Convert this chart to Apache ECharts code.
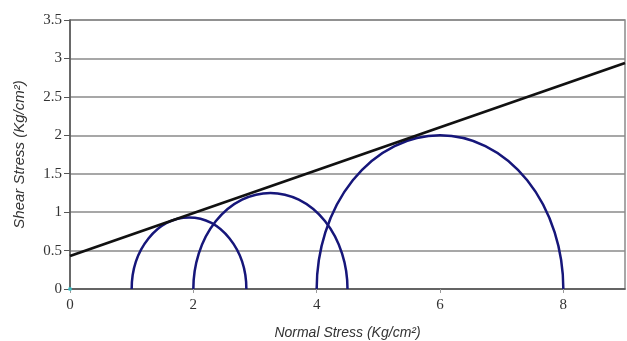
<!DOCTYPE html>
<html>
<head>
<meta charset="utf-8">
<script src="https://cdn.jsdelivr.net/npm/echarts@6/dist/echarts.min.js"></script>
<style>
  html, body { margin: 0; padding: 0; background: #fff; }
  #chart { width: 627px; height: 341px; }
</style>
</head>
<body>
<div id="chart"></div>
<script>
// Mohr circles: centre and radius on the normal stress axis
const circleCenters = [1.93, 3.25, 6];
const circleRadii = [0.93, 1.25, 2];
// failure envelope end points
const envelopeX = [0, 9];
const envelopeY = [0.43, 2.94];
// origin marker
const originPoint = [[0, 0]];

const chart = echarts.init(document.getElementById("chart"));

const circleData = circleCenters.map((c, i) => [c, circleRadii[i]]);
const envelopeData = envelopeX.map((x, i) => [x, envelopeY[i]]);

const option = {
  animation: false,
  grid: {
    left: 70,
    right: 2,
    top: 20,
    bottom: 52,
    outerBoundsMode: "none",
    show: true,
    borderColor: "#8a8a8a",
    borderWidth: 1.5,
  },
  xAxis: {
    type: "value",
    min: 0,
    max: 9,
    interval: 2,
    name: "Normal Stress (Kg/cm²)",
    nameLocation: "middle",
    nameGap: 37,
    nameTextStyle: {
      fontFamily: "Liberation Sans",
      fontStyle: "italic",
      fontSize: 14,
      color: "#333",
    },
    axisLine: { lineStyle: { color: "#555", width: 1.5 } },
    axisTick: { show: true, length: 4, lineStyle: { color: "#999" } },
    axisLabel: {
      showMaxLabel: false,
      fontFamily: "Liberation Serif",
      fontSize: 15,
      color: "#333",
      margin: 9,
    },
    splitLine: { show: false },
  },
  yAxis: {
    type: "value",
    min: 0,
    max: 3.5,
    interval: 0.5,
    name: "Shear Stress (Kg/cm²)",
    nameLocation: "middle",
    nameGap: 43,
    nameTextStyle: {
      fontFamily: "Liberation Sans",
      fontStyle: "italic",
      fontSize: 15,
      color: "#333",
    },
    axisLine: { show: true, lineStyle: { color: "#555", width: 1.5 } },
    axisTick: { show: true, length: 6, lineStyle: { color: "#555" } },
    axisLabel: {
      fontFamily: "Liberation Serif",
      fontSize: 15,
      color: "#333",
      margin: 8,
    },
    splitLine: { show: true, lineStyle: { color: "#8a8a8a", width: 1.5 } },
  },
  series: [
    {
      type: "custom",
      data: circleData,
      renderItem: function (params, api) {
        const c = api.coord([api.value(0), 0]);
        const s = api.size([api.value(1), api.value(1)]);
        return {
          type: "path",
          shape: {
            pathData:
              "M " + (c[0] - s[0]) + " " + c[1] +
              " A " + s[0] + " " + s[1] + " 0 0 1 " + (c[0] + s[0]) + " " + c[1],
          },
          style: { fill: "none", stroke: "#16167a", lineWidth: 2.5 },
        };
      },
    },
    {
      type: "line",
      data: envelopeData,
      symbol: "none",
      lineStyle: { color: "#111", width: 2.8 },
    },
    {
      type: "scatter",
      data: originPoint,
      symbolSize: 4,
      itemStyle: { color: "#33c6cc" },
    },
  ],
};

chart.setOption(option);
</script>
</body>
</html>
